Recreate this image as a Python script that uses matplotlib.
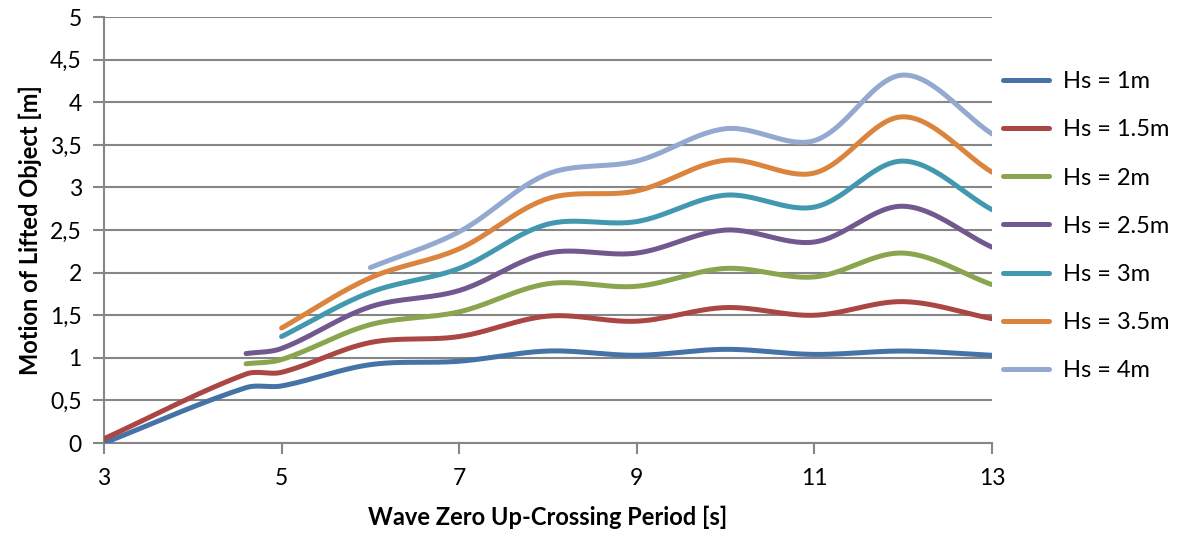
import matplotlib.pyplot as plt
import numpy as np
from matplotlib.ticker import FuncFormatter

plt.rcParams["font.family"] = ["Lato", "DejaVu Sans"]

# wave zero up-crossing period [s] per series
period_long = [3, 4.6, 5, 6, 7, 8, 9, 10, 11, 12, 13]
period_46 = [4.6, 5, 6, 7, 8, 9, 10, 11, 12, 13]
period_5 = [5, 6, 7, 8, 9, 10, 11, 12, 13]
period_6 = [6, 7, 8, 9, 10, 11, 12, 13]

hs_1 = [0.0, 0.65, 0.67, 0.92, 0.96, 1.08, 1.03, 1.10, 1.04, 1.08, 1.03]
hs_15 = [0.05, 0.81, 0.83, 1.18, 1.25, 1.49, 1.43, 1.59, 1.50, 1.66, 1.46]
hs_2 = [0.93, 0.98, 1.39, 1.54, 1.87, 1.84, 2.05, 1.95, 2.23, 1.86]
hs_25 = [1.05, 1.11, 1.60, 1.79, 2.23, 2.23, 2.50, 2.36, 2.78, 2.30]
hs_3 = [1.25, 1.77, 2.05, 2.57, 2.60, 2.91, 2.77, 3.31, 2.74]
hs_35 = [1.35, 1.94, 2.28, 2.87, 2.96, 3.32, 3.17, 3.83, 3.18]
hs_4 = [2.06, 2.48, 3.16, 3.31, 3.69, 3.55, 4.32, 3.63]

labels = ["Hs = 1m", "Hs = 1.5m", "Hs = 2m", "Hs = 2.5m", "Hs = 3m", "Hs = 3.5m", "Hs = 4m"]
colors = ["#4572A7", "#AA4643", "#89A54E", "#71588F", "#4198AF", "#DB843D", "#93A9CF"]
series = [(period_long, hs_1), (period_long, hs_15), (period_46, hs_2), (period_46, hs_25),
          (period_5, hs_3), (period_5, hs_35), (period_6, hs_4)]


def smooth(x, y, n=30):
    # bezier through the points, tangents weighted by chord length
    p = np.column_stack([x, y]).astype(float)
    p = np.vstack([p[0], p, p[-1]])
    t = np.linspace(0, 1, n)[:, None]
    out = []
    for i in range(1, len(p) - 2):
        p0, p1, p2, p3 = p[i - 1], p[i], p[i + 1], p[i + 2]
        l01 = np.hypot(*(p1 - p0))
        l12 = np.hypot(*(p2 - p1))
        l23 = np.hypot(*(p3 - p2))
        c1 = p1 + (p2 - p0) * l12 / (l01 + l12) / 3
        c2 = p2 - (p3 - p1) * l12 / (l12 + l23) / 3
        seg = ((1 - t) ** 3) * p1 + 3 * ((1 - t) ** 2) * t * c1 + 3 * (1 - t) * t ** 2 * c2 + t ** 3 * p2
        out.append(seg if i == 1 else seg[1:])
    seg = np.vstack(out)
    return seg[:, 0], seg[:, 1]


fig = plt.figure(figsize=(11.78, 5.36), dpi=100)
ax = fig.add_axes([0.0883, 0.1735, 0.7537, 0.7945])

for (xs, ys), lab, col in zip(series, labels, colors):
    sx, sy = smooth(xs, ys)
    ax.plot(sx, sy, color=col, lw=3.6, solid_capstyle="round", label=lab, zorder=3)

ax.set_xlim(3, 13)
ax.set_ylim(0, 5)
ax.set_xticks([3, 5, 7, 9, 11, 13])
ax.set_yticks(np.arange(0, 5.01, 0.5))
ax.yaxis.set_major_formatter(FuncFormatter(lambda v, _: f"{v:g}".replace(".", ",")))
ax.grid(axis="y", color="#868686", lw=1.5, zorder=0)
ax.set_axisbelow(True)
for s in ["top", "right"]:
    ax.spines[s].set_visible(False)
for s in ["left", "bottom"]:
    ax.spines[s].set_color("#868686")
    ax.spines[s].set_linewidth(1.5)
ax.tick_params(axis="both", colors="#868686", width=1.5, length=8, labelsize=16.5, labelcolor="black")
ax.tick_params(axis="x", pad=10)
ax.tick_params(axis="y", pad=8)

ax.set_xlabel("Wave Zero Up-Crossing Period [s]", fontsize=17, fontweight="bold", labelpad=12)
ax.set_ylabel("Motion of Lifted Object [m]", fontsize=17, fontweight="bold", labelpad=6)

fig.legend(loc="upper left", bbox_to_anchor=(1003 / 1178, 0.867), frameon=False, fontsize=17,
           handlelength=1.95, handletextpad=0.6, labelspacing=1.15, borderpad=0, borderaxespad=0)

fig.savefig("out.png", dpi=100)
